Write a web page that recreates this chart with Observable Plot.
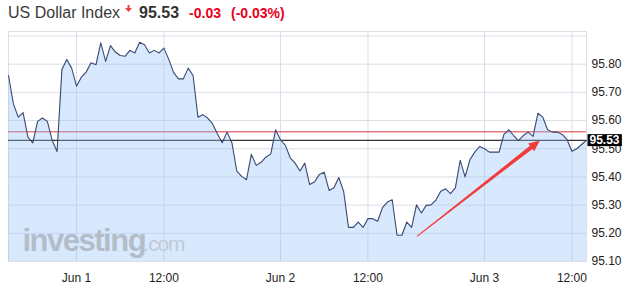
<!DOCTYPE html>
<html><head><meta charset="utf-8">
<script src="https://cdn.jsdelivr.net/npm/d3@7"></script>
<script src="https://cdn.jsdelivr.net/npm/@observablehq/plot@0.6"></script>
<style>
body{margin:0;background:#fff;font-family:"Liberation Sans",Arial,sans-serif;}
#title{position:relative;height:26px;width:632px;}
#title .row{position:absolute;left:8px;top:4px;white-space:nowrap;font-size:16px;color:#3a3a3a;}
#title .last{font-weight:bold;color:#333;margin-left:7px;}
#title .chg{font-weight:bold;color:#e8001c;font-size:14px;margin-left:10px;}
#title svg{vertical-align:6px;margin-left:5px;}
.wm-main text{letter-spacing:-1.5px;}
.wm-dom text{letter-spacing:-1.2px;}
</style>
</head><body>
<div id="title"></div>
<div id="chart"></div>
<script>
// ---- data ----
const titleName = "US Dollar Index";
const lastPrice = 95.53;
const prevClose = 95.56;
const changeText = "-0.03";
const changePctText = "(-0.03%)";

const values = [
95.760, 95.660, 95.612, 95.628, 95.541, 95.521, 95.597, 95.609, 95.597, 95.529,
95.490, 95.781, 95.817, 95.786, 95.722, 95.754, 95.772, 95.805, 95.798, 95.876,
95.810, 95.866, 95.843, 95.831, 95.828, 95.849, 95.840, 95.878, 95.869, 95.840,
95.849, 95.840, 95.857, 95.817, 95.770, 95.748, 95.748, 95.786, 95.760, 95.612,
95.621, 95.609, 95.589, 95.553, 95.521, 95.559, 95.521, 95.421, 95.402, 95.390,
95.480, 95.441, 95.452, 95.470, 95.482, 95.567, 95.532, 95.512, 95.468, 95.449,
95.421, 95.449, 95.373, 95.382, 95.409, 95.417, 95.352, 95.362, 95.398, 95.349,
95.221, 95.221, 95.240, 95.221, 95.252, 95.252, 95.243, 95.291, 95.311, 95.319,
95.193, 95.193, 95.240, 95.221, 95.301, 95.272, 95.299, 95.301, 95.318, 95.349,
95.358, 95.341, 95.361, 95.459, 95.400, 95.461, 95.488, 95.508, 95.500, 95.488,
95.488, 95.488, 95.551, 95.567, 95.547, 95.529, 95.547, 95.559, 95.544, 95.626,
95.612, 95.567, 95.559, 95.559, 95.551, 95.532, 95.491, 95.500, 95.515, 95.530
];
const xTickIndex = [14, 32, 56, 74, 98, 116];
const xTickLabels = ["Jun 1", "12:00", "Jun 2", "12:00", "Jun 3", "12:00"];
const yTicks = [95.10, 95.20, 95.30, 95.40, 95.50, 95.60, 95.70, 95.80];
const yGrid = [95.10, 95.20, 95.30, 95.40, 95.50, 95.60, 95.70, 95.80, 95.90];
const yDomain = [95.10, 95.916];
const arrowFrom = [84.1, 95.189];
const arrowTo = [109.4, 95.529];
const watermark = ["investing", ".com"];

// ---- title ----
const row = document.createElement("div");
row.className = "row";
row.innerHTML =
  `<span class="name">${titleName}</span>` +
  `<svg width="7" height="7" viewBox="0 0 7 7"><path d="M2.5,0H4.5V3H7L3.5,7L0,3H2.5Z" fill="#e8423c"/></svg>` +
  `<span class="last">${lastPrice.toFixed(2)}</span>` +
  `<span class="chg">${changeText}</span>` +
  `<span class="chg">${changePctText}</span>`;
document.getElementById("title").append(row);

// ---- chart ----
const W = 632, H = 266, mL = 8, mR = 46, mT = 5, mB = 31;
const data = values.map((v, i) => ({i, v}));
const xDomain = [0, values.length - 1];

// pixel geometry of the annotation arrow from the library's scales
const sx = Plot.scale({x: {domain: xDomain, range: [mL, W - mR]}});
const sy = Plot.scale({y: {domain: yDomain, range: [H - mB, mT]}});
const ax0 = sx.apply(arrowFrom[0]), ay0 = sy.apply(arrowFrom[1]);
const ax1 = sx.apply(arrowTo[0]), ay1 = sy.apply(arrowTo[1]);
const aLen = Math.hypot(ax1 - ax0, ay1 - ay0);
const aRot = Math.atan2(ax1 - ax0, -(ay1 - ay0)) * 180 / Math.PI;
const taperArrow = {
  draw(ctx, l) {
    const hl = 11, hw = 5, t0 = 0.5, t1 = 2;
    ctx.moveTo(-t0, 0);
    ctx.lineTo(-t1, -(l - hl));
    ctx.lineTo(-hw, -(l - hl));
    ctx.lineTo(0, -l);
    ctx.lineTo(hw, -(l - hl));
    ctx.lineTo(t1, -(l - hl));
    ctx.lineTo(t0, 0);
    ctx.closePath();
  }
};

const chart = Plot.plot({
  width: W, height: H,
  marginLeft: mL, marginRight: mR, marginTop: mT, marginBottom: mB,
  style: {fontFamily: "Liberation Sans, Arial, sans-serif", fontSize: "12px", color: "#222", background: "white"},
  x: {domain: xDomain, label: null},
  y: {domain: yDomain, label: null},
  marks: [
    Plot.gridX(xTickIndex, {stroke: "#dcdde8", strokeOpacity: 1}),
    Plot.gridY(yGrid, {stroke: "#dcdde8", strokeOpacity: 1}),
    Plot.frame({stroke: "#dcdde8"}),
    Plot.ruleY([prevClose], {stroke: "#e0343f", strokeWidth: 1}),
    Plot.ruleY([lastPrice], {stroke: "#000", strokeWidth: 1}),
    Plot.areaY(data, {x: "i", y1: yDomain[0], y2: "v", fill: "rgb(149,194,249)", fillOpacity: 0.36}),
    Plot.text([watermark[0]], {frameAnchor: "bottom-left", textAnchor: "start", lineAnchor: "bottom", dx: 14, dy: -11, fontSize: 31, fontWeight: "bold", fill: "#b3bdca", className: "wm-main"}),
    Plot.text([watermark[1]], {frameAnchor: "bottom-left", textAnchor: "start", lineAnchor: "bottom", dx: 135, dy: -11, fontSize: 21, fill: "#bfc9d6", className: "wm-dom"}),
    Plot.line(data, {x: "i", y: "v", stroke: "#3b4872", strokeWidth: 1.1}),
    Plot.vector([0], {x: () => arrowFrom[0], y: () => arrowFrom[1], anchor: "start", rotate: aRot, length: aLen, shape: taperArrow, fill: "#f03c3c", stroke: "none"}),
    Plot.axisX(xTickIndex, {tickSize: 0, tickPadding: 12, fontSize: 12, fill: "#222", tickFormat: d => xTickLabels[xTickIndex.indexOf(d)]}),
    Plot.axisY(yTicks, {anchor: "right", tickSize: 0, tickPadding: 5, fontSize: 12, fill: "#222", tickFormat: d3.format(".2f")}),
    Plot.text([lastPrice], {x: () => xDomain[1], y: d => d, text: d => d.toFixed(2), textAnchor: "start", dx: 3, fill: "white", fontWeight: "bold", fontSize: 12, className: "last-label"})
  ]
});
document.getElementById("chart").append(chart);

// black box behind the last-price label
const t = chart.querySelector("g.last-label text");
if (t) {
  const bb = t.getBBox();
  const r = document.createElementNS("http://www.w3.org/2000/svg", "rect");
  r.setAttribute("x", bb.x - 2);
  r.setAttribute("y", bb.y + 1);
  r.setAttribute("width", bb.width + 4);
  r.setAttribute("height", bb.height - 2);
  r.setAttribute("fill", "#000");
  if (t.getAttribute("transform")) r.setAttribute("transform", t.getAttribute("transform"));
  if (t.getAttribute("x")) r.setAttribute("x", bb.x - 2);
  t.parentNode.insertBefore(r, t);
}
</script>
</body></html>
